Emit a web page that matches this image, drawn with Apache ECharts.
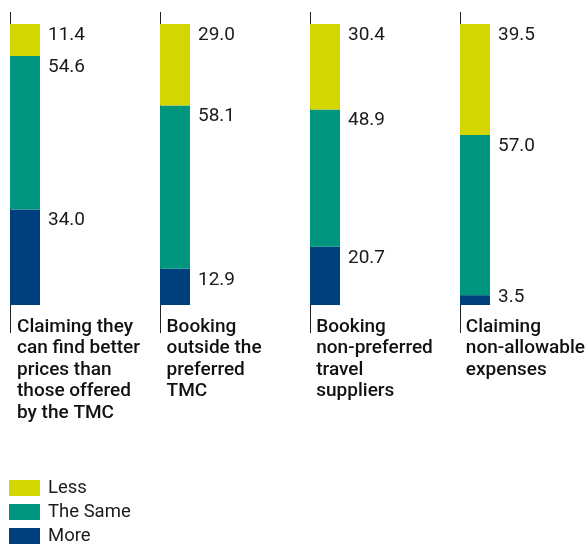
<!DOCTYPE html>
<html><head><meta charset="utf-8">
<script src="https://cdn.jsdelivr.net/npm/echarts@6/dist/echarts.min.js"></script>
<style>html,body{margin:0;padding:0;background:#fff}#c{width:588px;height:547px}</style>
</head><body><div id="c"></div>
<script>
var categories = [
  "Claiming they\ncan find better\nprices than\nthose offered\nby the TMC",
  "Booking\noutside the\npreferred\nTMC",
  "Booking\nnon-preferred\ntravel\nsuppliers",
  "Claiming\nnon-allowable\nexpenses"
];
var less = [11.4, 29.0, 30.4, 39.5];
var same = [54.6, 58.1, 48.9, 57.0];
var more = [34.0, 12.9, 20.7, 3.5];
var seriesNames = ["Less", "The Same", "More"];

var colors = {Less: "#D3D600", "The Same": "#00957F", More: "#003F7D"};
var font = "Roboto, 'Liberation Sans', sans-serif";

function lbl() {
  return {
    show: true, position: [38, 1], align: "left", verticalAlign: "top",
    fontFamily: font, fontSize: 19, lineHeight: 20, color: "#1a1a1a",
    formatter: function (p) { return p.value.toFixed(1); }
  };
}
function mkData(arr) {
  return arr.map(function (v) {
    var d = {value: v};
    if (v < 6) d.label = {position: [38, -8]};
    return d;
  });
}

var chart = echarts.init(document.getElementById("c"), null, {renderer: "canvas"});
chart.setOption({
  animation: false,
  grid: [
    {left: 25, right: 113, top: 24, bottom: 242},
    {left: 17, right: 121, top: 24, bottom: 242},
    {left: 10, right: 128, top: 12, bottom: 214}
  ],
  xAxis: [
    {gridIndex: 0, type: "category", data: categories, boundaryGap: false, show: false},
    {gridIndex: 1, type: "category", data: categories, boundaryGap: false,
      axisLine: {show: false}, axisTick: {show: false},
      axisLabel: {interval: 0, align: "left", verticalAlign: "top", margin: 11, hideOverlap: false,
        fontFamily: font, fontWeight: 500, fontSize: 19, lineHeight: 21.5, color: "#111"}},
    {gridIndex: 2, type: "category", data: categories, boundaryGap: false,
      axisLine: {show: false}, axisLabel: {show: false},
      axisTick: {show: true, inside: true, length: 321, lineStyle: {color: "#222", width: 1}}}
  ],
  yAxis: [
    {gridIndex: 0, type: "value", min: 0, max: 100, show: false},
    {gridIndex: 1, type: "value", min: 0, max: 100, show: false},
    {gridIndex: 2, type: "value", min: 0, max: 100, show: false}
  ],
  legend: {
    orient: "vertical", left: 9, top: 478, height: 90, padding: 0,
    itemWidth: 31, itemHeight: 16, itemGap: 4,
    icon: "rect", data: seriesNames,
    textStyle: {fontFamily: font, fontSize: 18.5, lineHeight: 20, color: "#1a1a1a", padding: [0, 0, 0, 3]}
  },
  series: [
    {name: "More", type: "bar", stack: "s", barWidth: 30, data: mkData(more),
      itemStyle: {color: colors.More}, label: lbl()},
    {name: "The Same", type: "bar", stack: "s", barWidth: 30, data: mkData(same),
      itemStyle: {color: colors["The Same"]}, label: lbl()},
    {name: "Less", type: "bar", stack: "s", barWidth: 30, data: mkData(less),
      itemStyle: {color: colors.Less}, label: lbl()}
  ]
});
</script></body></html>
